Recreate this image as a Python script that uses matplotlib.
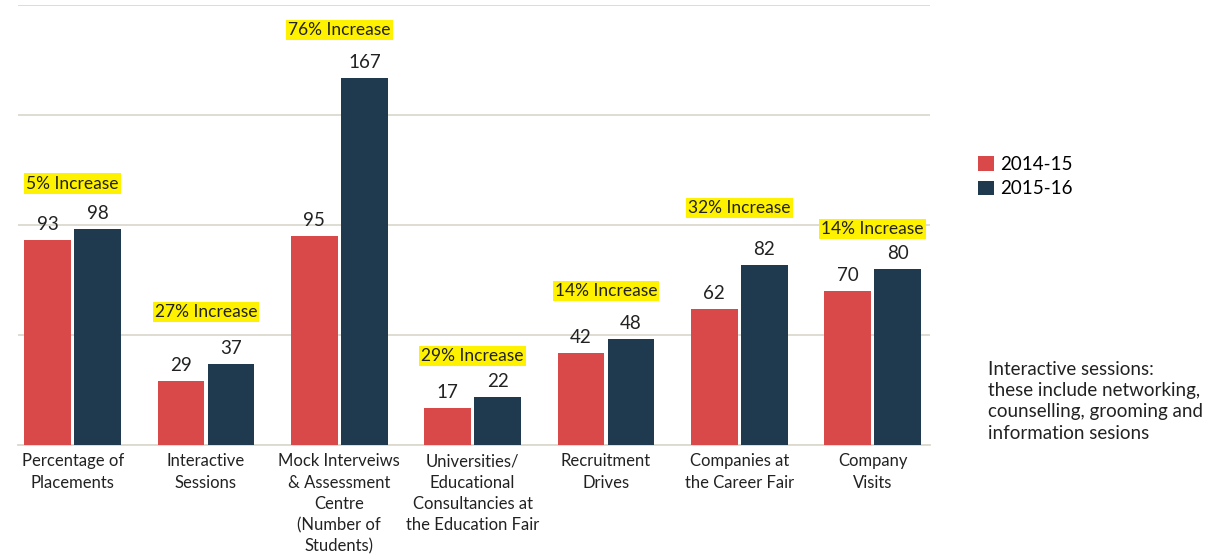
import matplotlib
matplotlib.use('Agg')
import matplotlib.pyplot as plt
import numpy as np

plt.rcParams['font.family'] = ['Lato', 'DejaVu Sans']

categories = ['Percentage of\nPlacements', 'Interactive\nSessions',
              'Mock Interveiws\n& Assessment\nCentre\n(Number of\nStudents)',
              'Universities/\nEducational\nConsultancies at\nthe Education Fair',
              'Recruitment\nDrives', 'Companies at\nthe Career Fair', 'Company\nVisits']
y2014 = [93, 29, 95, 17, 42, 62, 70]
y2015 = [98, 37, 167, 22, 48, 82, 80]
increase = ['5% Increase', '27% Increase', '76% Increase', '29% Increase',
            '14% Increase', '32% Increase', '14% Increase']
series = ['2014-15', '2015-16']

# label heights above tallest bar (points), picked by eye
inc_off = [33, 37, 34, 29, 35, 41, 29]

red = '#d9494a'
navy = '#1f394e'
grid_c = '#dcd9cf'
txt_c = '#222222'

fig = plt.figure(figsize=(12.21, 5.58), dpi=100)
ax = fig.add_axes([18/1221, 1 - 445/558, (930-18)/1221, 440/558])

x = np.arange(len(categories))
w = 0.35
b1 = ax.bar(x - 0.1875, y2014, w, color=red, label=series[0], zorder=3)
b2 = ax.bar(x + 0.1875, y2015, w, color=navy, label=series[1], zorder=3)

for bars in (b1, b2):
    for r in bars:
        ax.annotate(str(int(r.get_height())), (r.get_x() + r.get_width()/2, r.get_height()),
                    xytext=(0, 5), textcoords='offset points', ha='center', va='bottom',
                    fontsize=13.5, color=txt_c)

for i in range(len(categories)):
    top = max(y2014[i], y2015[i])
    ax.annotate(increase[i], (x[i], top), xytext=(0, inc_off[i]), textcoords='offset points',
                ha='center', va='center', fontsize=12.5, color=txt_c,
                bbox=dict(boxstyle='square,pad=0.12', fc='#fff200', ec='none'))

ax.set_xlim(-0.41, 6.43)
ax.set_ylim(0, 200)
ax.set_yticks([0, 50, 100, 150, 200])
ax.yaxis.grid(True, color=grid_c, lw=1.3, zorder=0)
ax.tick_params(axis='y', left=False, labelleft=False)
ax.set_xticks(x)
ax.set_xticklabels(categories, fontsize=12, color=txt_c, linespacing=1.4)
ax.tick_params(axis='x', length=0, pad=6)
for s in ['top', 'right', 'left']:
    ax.spines[s].set_visible(False)
ax.spines['bottom'].set_color(grid_c)
ax.spines['bottom'].set_linewidth(1.3)

fig.legend(handles=[b1, b2], labels=series, loc='upper left', bbox_to_anchor=(978/1221, 1 - 156/558),
           frameon=False, fontsize=13.5, handlelength=0.85, handleheight=0.85, handletextpad=0.35,
           labelspacing=0.4, borderaxespad=0, borderpad=0)

fig.text(988/1221, 1 - 361/558,
         'Interactive sessions:\nthese include networking,\ncounselling, grooming and\ninformation sesions',
         fontsize=13.5, color=txt_c, ha='left', va='top', linespacing=1.3)

fig.savefig('out.png', dpi=100)
